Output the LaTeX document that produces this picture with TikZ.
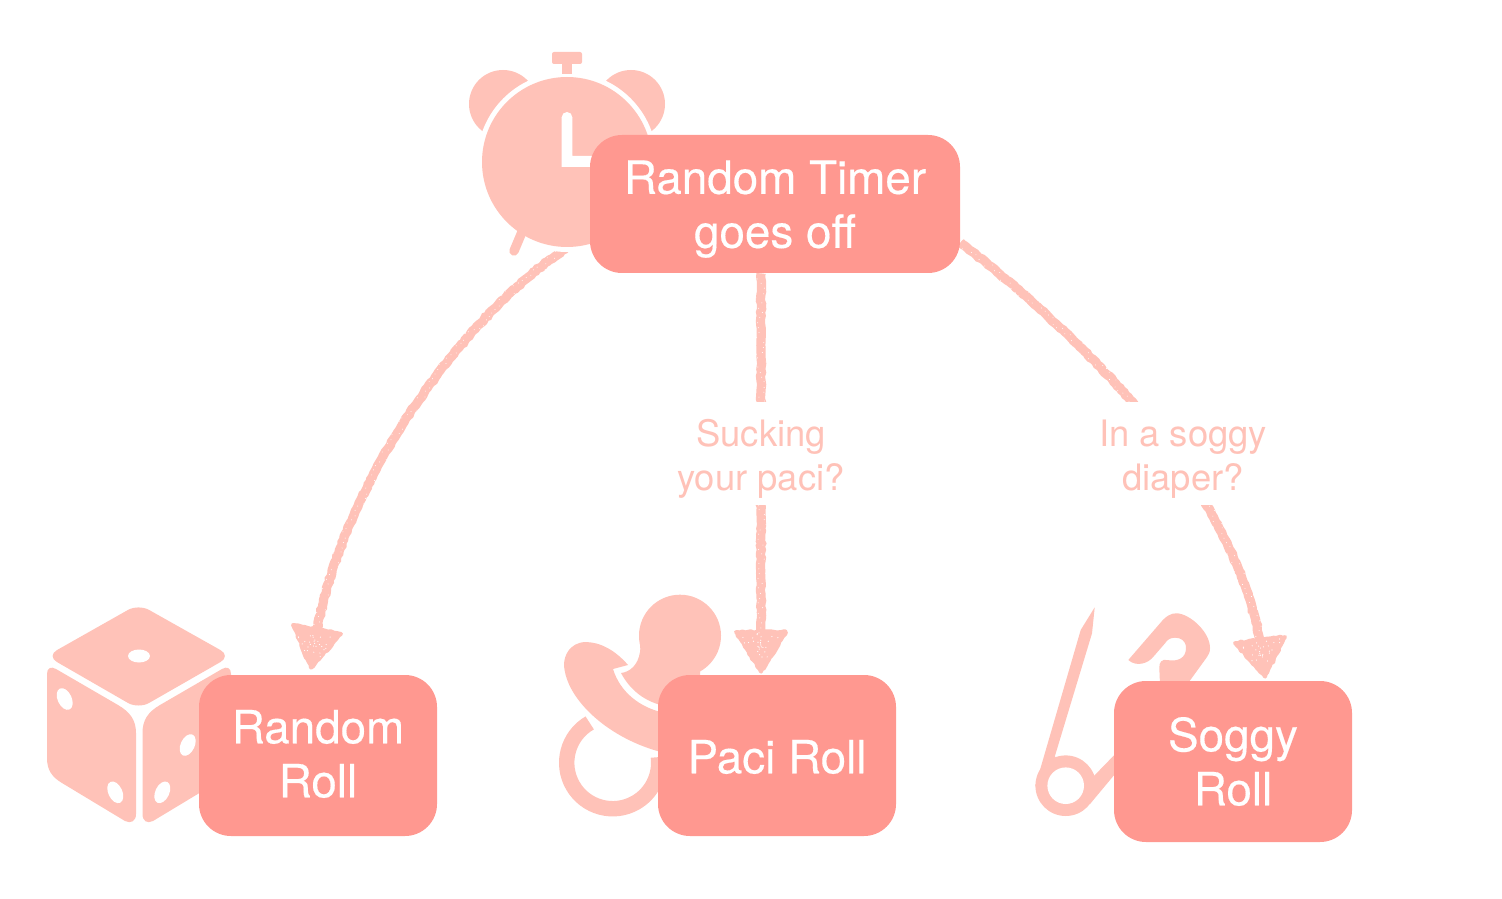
\documentclass[tikz,border=0pt]{standalone}
\usepackage{fontspec}
\setmainfont{TeX Gyre Heros}
\newfontfamily\boxfont[FakeBold=0.3]{TeX Gyre Heros}
\usetikzlibrary{decorations.pathmorphing,decorations.markings,calc}
\definecolor{icon}{HTML}{FFC2B8}
\definecolor{boxc}{HTML}{FF9890}
\pgfdeclarelayer{back}
\pgfsetlayers{back,main}
\newcommand{\lines}[2]{\raisebox{#1}[\height][\depth]{\begin{tabular}{@{}c@{}}#2\end{tabular}}}
\tikzset{
  rollbox/.style={fill=boxc,text=white,rounded corners=16pt,inner sep=0pt,
    minimum width=119pt,minimum height=80.5pt,font=\boxfont\fontsize{22.9}{27}\selectfont},
  timerbox/.style={rollbox,minimum width=185pt,minimum height=69pt},
  asklabel/.style={fill=white,text=icon,inner sep=0pt,minimum height=51.5pt,
    minimum width=86pt,font=\fontsize{18.2}{22}\selectfont},
  chalk/.style={draw=icon,line width=4.6pt,
    decoration={random steps,segment length=1.5pt,amplitude=.35pt},decorate,
    postaction={decoration={markings,mark=between positions 0 and 1 step 2.5pt with {
      \fill[white] (0,{5*rand}) circle (.25pt);}},decorate,draw=none}},
  chalkhead/.style={fill=icon,draw=icon,line width=2pt,line join=round,
    decoration={random steps,segment length=1.5pt,amplitude=.4pt},decorate},
}
\newcommand{\ChalkHead}[3]{%
  \path[chalkhead] (#1) -- (#2) -- (#3) -- cycle;
  \foreach \i in {1,...,28}{%
    \pgfmathsetmacro{\ra}{rnd}\pgfmathsetmacro{\rb}{rnd}\pgfmathsetmacro{\rc}{rnd}%
    \fill[white] (barycentric cs:#1=\ra,#2=\rb,#3=\rc) circle (.3pt);}%
}
\begin{document}
\begin{tikzpicture}[x=.5pt,y=-.5pt]
\pgfmathsetseed{42}

% boxes
\node[timerbox] (timer) at (775,204) {\lines{-3pt}{Random Timer\\goes off}};
\node[rollbox] (rand) at (318,755.5) {\lines{-2pt}{Random\\Roll}};
\node[rollbox] (paci) at (777,755.5) {\lines{-3.5pt}{Paci Roll}};
\node[rollbox] (soggy) at (1233,761.5) {\lines{-3pt}{Soggy\\Roll}};

\begin{pgfonlayer}{back}
\path[use as bounding box,fill=white] (0,0) rectangle (1502,898);

\coordinate (tipA) at ([shift={(-7,-7)}]rand.north);
\coordinate (tipB) at ([shift={(-16,-3)}]paci.north);
\coordinate (tipC) at ([shift={(32,-4)}]soggy.north);
\coordinate (a1) at (293,625); \coordinate (a2) at (341,634);
\coordinate (b1) at (736,632); \coordinate (b2) at (786,632);
\coordinate (c1) at (1235,643); \coordinate (c2) at (1285,637);
\coordinate (ea) at ($(a1)!.5!(a2)$);
\coordinate (eb) at ($(b1)!.5!(b2)$);
\coordinate (ec) at ($(c1)!.5!(c2)$);

% connectors
\draw[chalk] ([shift={(-20,42)}]timer.west) .. controls (470,310) and (348,470) .. (ea);
\draw[chalk] ([xshift=-7pt]timer.south) -- (eb);
\draw[chalk] ([shift={(0,-31)}]timer.south east) .. controls (1100,352) and (1228,485) .. (ec);
\ChalkHead{tipA}{a1}{a2}
\ChalkHead{tipB}{b1}{b2}
\ChalkHead{tipC}{c1}{c2}

% labels
\node[asklabel] (askpaci) at (761,453.5) {\lines{-3pt}{Sucking\\your paci?}};
\node[asklabel] (asksoggy) at (1183,453.5) {\lines{-3pt}{In a soggy\\diaper?}};

% alarm clock
\fill[icon] (503,104) circle (34);
\fill[icon] (631,104) circle (34);
\fill[white] (567,162) circle (90);
\draw[icon,line width=4.7pt,line cap=round] (522,232) -- (514,251);
\fill[icon] (567,162) circle (85);
\fill[icon] (562,62) rectangle (572,74);
\fill[icon,rounded corners=1pt] (552,52) rectangle (582,64);
\fill[white] (561.7,167) -- (561.7,117.3) -- (572.3,117.3) -- (572.3,156) -- (610,156) -- (610,167) -- cycle;
\fill[white] (567,117.3) circle (5.3);

% die
\fill[icon,rounded corners=6pt] (138.5,604) -- (231,656) -- (138.5,709) -- (46.5,656) -- cycle;
\fill[white] (139,656) circle [x radius=11,y radius=6.5];
\fill[icon] (47,674) .. controls (47,668) and (51,666) .. (56,669) -- (118,705)
  .. controls (130,712) and (136,720) .. (136,733) -- (136,814)
  .. controls (136,821) and (131,824) .. (125,821) -- (62,783)
  .. controls (52,777) and (47,770) .. (47,758) -- cycle;
\fill[icon] (231,674) .. controls (231,668) and (227,666) .. (222,669) -- (160,705)
  .. controls (148,712) and (142.5,720) .. (142.5,733) -- (142.5,814)
  .. controls (142.5,821) and (147,824) .. (153,821) -- (216,783)
  .. controls (226,777) and (231,770) .. (231,758) -- cycle;
\foreach \p in {(64.7,699),(115.3,792.3)}
  \fill[white,shift={\p},rotate=25] (0,0) circle [x radius=7,y radius=11.5];
\foreach \p in {(187.7,745),(162.3,792.3)}
  \fill[white,shift={\p},rotate=-25] (0,0) circle [x radius=7,y radius=11.5];

% pacifier
\draw[icon,line width=7.7pt] (589.7,722.9) arc[start angle=-120,end angle=-367,radius=46];
\fill[icon] (680,635.7) circle (41);
\fill[icon] (640,630) .. controls (639,640) and (641,650) .. (640,652)
  .. controls (638,665) and (630,672) .. (621,673)
  .. controls (630,690) and (645,702) .. (665,706) -- (700,700) -- (700,660) -- cycle;
\fill[icon] (628,665) .. controls (615,650) and (600,642) .. (585,642)
  .. controls (570,643) and (564,655) .. (564,665)
  .. controls (566,700) and (610,740) .. (665,753) -- (665,713)
  .. controls (640,708) and (620,692) .. (613,669) -- cycle;

% safety pin
\fill[icon] (1094.7,607.3) -- (1092,633.3) -- (1055,755.7) -- (1060,785) -- (1035.3,786) -- (1080.7,630) -- cycle;
\fill[icon] (1065.7,785.7) circle (30.3);
\fill[icon] (1090,780) -- (1125,744) -- (1125,762) -- (1090,804) -- cycle;
\fill[white] (1065.7,785.7) circle (18.3);
\fill[icon] (1128.3,660) -- (1160,623.3)
  .. controls (1166,616) and (1171,613) .. (1177,613.3)
  .. controls (1190,614) and (1210,632) .. (1210,648)
  .. controls (1210,652) and (1209,654) .. (1207,657) -- (1186.7,685) -- (1160,685)
  -- (1159.3,668) .. controls (1159,662) and (1162,659) .. (1167,660)
  .. controls (1178,662) and (1186,658) .. (1186,648)
  .. controls (1186,640) and (1180,637.7) .. (1175,637.7)
  .. controls (1170,637.7) and (1167,640) .. (1165,643.3) -- (1154,656)
  .. controls (1148,664) and (1136,667) .. cycle;
\end{pgfonlayer}
\end{tikzpicture}
\end{document}
